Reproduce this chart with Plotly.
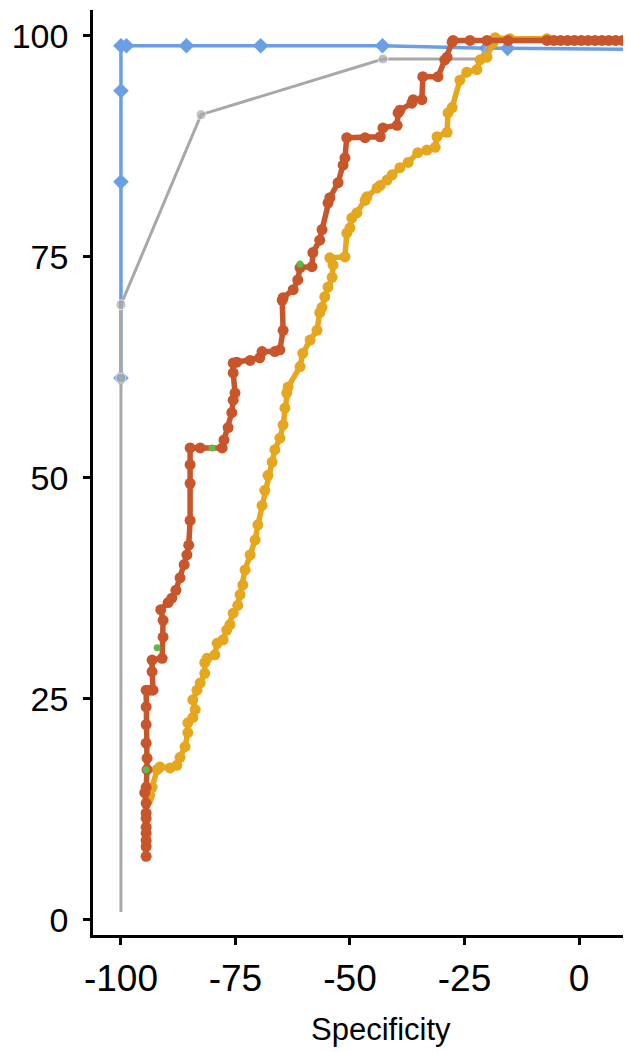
import plotly.graph_objects as go

# ---- data ----
blue_x = [-100, -100, -100, -100, -98.8, -85.7, -69.5, -42.9, -20.2, -15.6, 11.4]
blue_y = [61.3, 83.5, 93.8, 98.9, 98.9, 98.9, 98.9, 98.9, 98.6, 98.6, 98.5]

gray_x = [-100, -100, -100, -82.5, -42.8, -21.6, -19.5, 11.4]
gray_y = [0.9, 61.3, 69.6, 91.1, 97.4, 97.4, 99.5, 99.5]
gray_marker = [0, 10, 10, 10, 10, 0, 0, 0]

yellow_x = [-94.1, -93.7, -93.2, -92.1, -91.5, -89.3, -87.8, -87.1, -86.0, -85.4,
            -85.4, -84.3, -83.8, -84.3, -83.4, -82.7, -81.7, -81.7, -81.2, -79.5,
            -79.0, -77.7, -76.9, -76.2, -75.5, -74.5, -74.0, -73.4, -72.9, -71.8,
            -70.7, -70.1, -69.2, -68.6, -67.9, -67.0, -66.4, -65.3, -64.6, -64.2,
            -63.8, -63.5, -60.9, -60.3, -58.7, -57.2, -56.6, -56.1, -55.5, -54.8,
            -53.9, -53.7, -54.4, -51.1, -50.7, -50.0, -49.6, -48.5, -46.7, -46.3,
            -44.1, -43.4, -41.9, -40.8, -39.1, -37.3, -35.2, -33.2, -31.4, -31.0,
            -28.8, -28.6, -27.7, -26.0, -24.5, -22.3, -21.6, -20.1, -18.8, -18.3,
            -15.1, -7.0]
yellow_y = [13.6, 14.1, 15.0, 17.0, 17.3, 17.2, 17.5, 18.4, 19.6, 21.2,
            22.3, 22.9, 23.8, 24.9, 26.0, 26.8, 27.9, 29.1, 29.6, 30.0,
            31.3, 31.7, 32.8, 33.4, 34.7, 35.6, 36.8, 37.9, 39.6, 41.3,
            43.0, 44.7, 46.9, 48.6, 50.3, 51.8, 53.2, 54.5, 56.0, 57.9,
            59.6, 60.3, 62.6, 64.1, 65.6, 66.7, 68.7, 69.3, 70.5, 71.6,
            72.7, 74.1, 74.9, 75.0, 77.7, 78.3, 79.4, 80.0, 81.4, 81.8,
            82.8, 83.1, 83.7, 84.3, 85.1, 85.7, 86.8, 87.1, 87.4, 88.6,
            89.1, 91.3, 91.9, 95.0, 95.9, 96.2, 97.3, 97.6, 99.2, 99.8,
            99.7, 99.7]

red_x = [-94.5, -94.5, -94.5, -94.5, -94.5, -94.5, -94.5, -94.5, -94.8, -94.5,
         -94.3, -94.3, -94.5, -94.5, -94.5, -94.5, -93.7, -93.0, -93.2, -93.2,
         -91.0, -90.8, -90.8, -91.3, -89.7, -88.9, -88.0, -87.1, -86.2, -85.6,
         -85.2, -84.9, -84.9, -84.9, -84.9, -82.7, -77.9, -77.5, -76.6, -75.8,
         -75.5, -75.1, -75.5, -75.5, -74.7, -71.8, -69.7, -69.2, -66.4, -65.3,
         -64.6, -64.8, -64.6, -62.4, -61.4, -60.9, -58.3, -58.1, -56.6, -56.1,
         -54.8, -54.4, -52.6, -51.5, -51.1, -50.7, -46.7, -43.4, -42.8, -39.7,
         -39.5, -39.1, -36.5, -36.2, -34.3, -34.1, -30.8, -29.3, -28.8, -27.7,
         -27.5, -23.8, -20.1, -15.5,
         -7.0, -5.5, -4.0, -2.5, -1.0, 0.5, 2.0, 3.5, 5.0, 6.5, 8.0, 9.5, 11.0, 12.5]
red_y = [7.2, 8.3, 9.0, 9.8, 10.5, 11.5, 12.1, 13.2, 14.4, 15.0,
         17.0, 18.3, 20.0, 22.1, 24.1, 26.0, 26.0, 26.0, 28.1, 29.4,
         29.6, 32.0, 33.9, 35.1, 35.9, 36.4, 37.3, 38.7, 40.2, 41.3,
         42.4, 45.2, 49.4, 51.5, 53.4, 53.4, 53.4, 54.3, 55.7, 57.4,
         58.8, 59.6, 61.9, 63.0, 63.1, 63.3, 63.6, 64.3, 64.3, 64.5,
         66.7, 70.1, 70.4, 71.3, 72.4, 73.8, 73.9, 75.5, 76.9, 78.1,
         81.1, 81.7, 83.4, 85.4, 86.2, 88.5, 88.5, 88.6, 89.6, 89.9,
         91.3, 91.6, 92.4, 92.8, 92.8, 95.4, 95.4, 97.3, 97.6, 99.3,
         99.5, 99.5, 99.5, 99.5,
         99.5, 99.5, 99.5, 99.5, 99.5, 99.5, 99.5, 99.5, 99.5, 99.5, 99.5, 99.5, 99.5, 99.5]

green_x = [-94.5, -92.1, -80.1, -60.9]
green_y = [17.0, 30.8, 53.4, 74.2]

x_ticks = [-100, -75, -50, -25, 0]
y_ticks = [0, 25, 50, 75, 100]
x_title = "Specificity"

BLUE = "#6A9FE6"
GRAY = "#A8A8A8"
RED = "#C9552B"
YELLOW = "#E6A61E"
GREEN = "#5DBB46"
FONT = "Liberation Sans, Arial, sans-serif"

fig = go.Figure()
fig.add_trace(go.Scatter(x=blue_x, y=blue_y, mode="lines+markers",
                         line=dict(color=BLUE, width=3.5),
                         marker=dict(color=BLUE, size=12, symbol="diamond")))
fig.add_trace(go.Scatter(x=gray_x, y=gray_y, mode="lines+markers",
                         line=dict(color=GRAY, width=3),
                         marker=dict(color=GRAY, size=gray_marker)))
fig.add_trace(go.Scatter(x=yellow_x, y=yellow_y, mode="lines+markers",
                         line=dict(color=YELLOW, width=5.5),
                         marker=dict(color=YELLOW, size=11)))
fig.add_trace(go.Scatter(x=red_x, y=red_y, mode="lines+markers",
                         line=dict(color=RED, width=5.5),
                         marker=dict(color=RED, size=11)))
fig.add_trace(go.Scatter(x=green_x, y=green_y, mode="markers",
                         marker=dict(color=GREEN, size=7)))

# the page body adds an 8 px margin, so the figure is 8 px smaller than the window
fig.update_layout(
    width=623, height=1044,
    margin=dict(l=85, r=0, t=2, b=117),
    paper_bgcolor="white", plot_bgcolor="white",
    showlegend=False,
    font=dict(family=FONT, color="black"),
    xaxis=dict(range=[-106.1, 11.35], tickvals=x_ticks, ticktext=[str(v) for v in x_ticks],
               showgrid=False, zeroline=False, showline=True, linecolor="black", linewidth=2.5,
               ticks="outside", ticklen=7, tickwidth=2.5, tickcolor="black",
               tickfont=dict(size=37, family=FONT, color="black"), ticklabelstandoff=2),
    yaxis=dict(range=[-1.70, 102.94], tickvals=y_ticks, ticktext=[str(v) for v in y_ticks],
               showgrid=False, zeroline=False, showline=True, linecolor="black", linewidth=2.5,
               ticks="outside", ticklen=7, tickwidth=2.5, tickcolor="black",
               tickfont=dict(size=34, family=FONT, color="black"), ticklabelstandoff=8),
)
fig.add_annotation(text=x_title, xref="paper", yref="paper", x=0.535, y=-0.1027,
                   xanchor="center", yanchor="middle", showarrow=False,
                   font=dict(size=31, family=FONT, color="black"))

fig.write_html("out.html")
